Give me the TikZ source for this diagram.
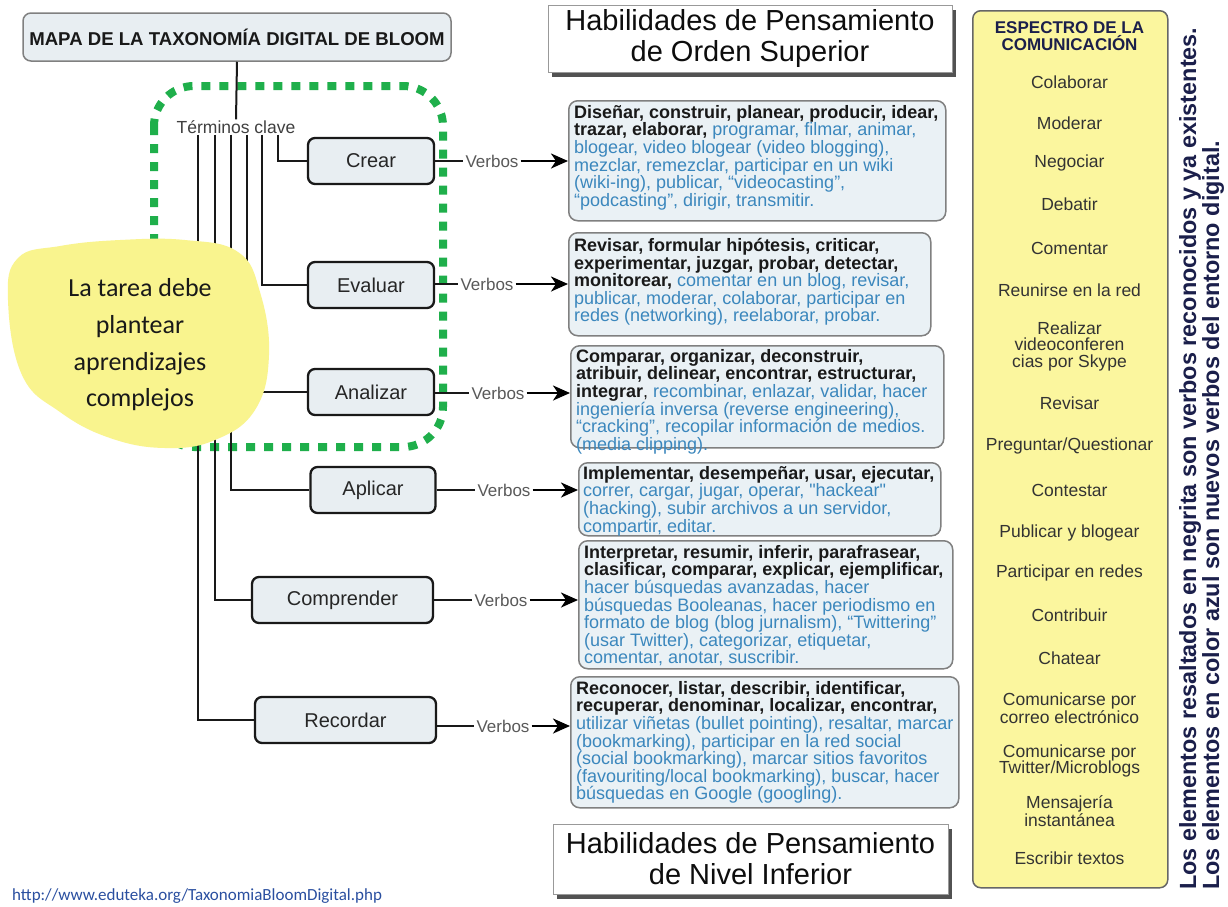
\documentclass[tikz,border=0pt]{standalone}
\usepackage{fontspec}
\setmainfont{Liberation Sans}
\newfontfamily\carlito{Carlito}
\usetikzlibrary{arrows.meta,shadows}
\definecolor{lvlfill}{HTML}{E8EEF2}
\definecolor{boxfill}{HTML}{EAF1F5}
\definecolor{vblue}{HTML}{3B87BD}
\definecolor{yfill}{HTML}{FBF69E}
\definecolor{blobfill}{HTML}{F9F48E}
\definecolor{greendot}{HTML}{1FAF4B}
\definecolor{navy}{HTML}{1B1F4B}
\definecolor{urlblue}{HTML}{2A4FA0}
\newcommand{\azul}[1]{\textcolor{vblue}{#1}}
\tikzset{
 lvl/.style={draw=black!90, line width=2.3pt, rounded corners=7pt, fill=lvlfill, text=black!85, font=\fontsize{20}{24}\selectfont, inner sep=0pt, minimum height=46pt},
 vbox/.style={draw=black!50, line width=1.5pt, rounded corners=9pt, fill=boxfill, inner sep=0pt, anchor=north west},
 vtext/.style={anchor=north west, inner sep=0pt, align=left, font=\fontsize{18}{17.6}\selectfont, text=black!90},
 verb/.style={font=\fontsize{17}{20}\selectfont, text=black!65, inner sep=2pt},
 conn/.style={line width=2pt, draw=black!90},
 arr/.style={line width=2.5pt, -{Stealth[length=17pt,width=15pt,inset=5pt]}},
 hdr/.style={draw=black!40, line width=1pt, fill=white, drop shadow={shadow xshift=4pt, shadow yshift=-5pt, fill=black!75, opacity=0.9}, align=center, font=\fontsize{29}{31}\selectfont, text=black!95, inner sep=0pt},
 item/.style={font=\fontsize{17.5}{16.5}\selectfont, text=black!80, align=center, inner sep=0pt},
}
\begin{document}
\begin{tikzpicture}[x=1pt,y=-1pt]
\useasboundingbox (0,0) rectangle (1228,906);
\fill[white] (0,0) rectangle (1228,906);

% green dotted frame
\draw[greendot, line width=8pt, dash pattern=on 9pt off 9pt, rounded corners=40pt] (154,86) rectangle (443,447);

% title
\node[draw=black!50, line width=1.5pt, rounded corners=8pt, fill=lvlfill, minimum width=428pt, minimum height=48pt, font=\bfseries\fontsize{18.6}{20}\selectfont, text=black!90] (title) at (237,37) {MAPA DE LA TAXONOMÍA DIGITAL DE BLOOM};
\node[font=\fontsize{17.5}{20}\selectfont, text=black!75, inner sep=1pt] (tc) at (236,127) {Términos clave};

% level boxes
\node[lvl, minimum width=126pt] (crear) at (371,161) {Crear};
\node[lvl, minimum width=126pt] (evaluar) at (371,285) {Evaluar};
\node[lvl, minimum width=126pt] (analizar) at (371,392) {Analizar};
\node[lvl, minimum width=125pt] (aplicar) at (373,490) {Aplicar};
\node[lvl, minimum width=181pt] (comprender) at (342.5,600) {Comprender};
\node[lvl, minimum width=181pt] (recordar) at (345.5,720) {Recordar};

% verbos labels
\node[verb] (v1) at (492,161) {Verbos};
\node[verb] (v2) at (487,284) {Verbos};
\node[verb] (v3) at (498,393) {Verbos};
\node[verb] (v4) at (504,490) {Verbos};
\node[verb] (v5) at (501,600) {Verbos};
\node[verb] (v6) at (503,726) {Verbos};

% verb boxes
\node[vbox, minimum width=377pt, minimum height=120pt] (b1) at (568,100) {};
\node[vbox, minimum width=362pt, minimum height=103pt] (b2) at (568,232) {};
\node[vbox, minimum width=373pt, minimum height=102pt] (b3) at (570,345) {};
\node[vbox, minimum width=362pt, minimum height=73pt] (b4) at (578,462) {};
\node[vbox, minimum width=374pt, minimum height=128pt] (b5) at (578,540) {};
\node[vbox, minimum width=388pt, minimum height=131pt] (b6) at (570,676) {};

\node[vtext] (t1) at ([xshift=6pt,yshift=-5pt]b1.north west) {\textbf{Diseñar, construir, planear, producir, idear,}\\
\textbf{trazar, elaborar,} \azul{programar, filmar, animar,}\\
\azul{blogear, video blogear (video blogging),}\\
\azul{mezclar, remezclar, participar en un wiki}\\
\azul{(wiki-ing), publicar, “videocasting”,}\\
\azul{“podcasting”, dirigir, transmitir.}};
\node[vtext] (t2) at ([xshift=6pt,yshift=-6pt]b2.north west) {\textbf{Revisar, formular hipótesis, criticar,}\\
\textbf{experimentar, juzgar, probar, detectar,}\\
\textbf{monitorear,} \azul{comentar en un blog, revisar,}\\
\azul{publicar, moderar, colaborar, participar en}\\
\azul{redes (networking), reelaborar, probar.}};
\node[vtext] (t3) at ([xshift=6pt,yshift=-4pt]b3.north west) {\textbf{Comparar, organizar, deconstruir,}\\
\textbf{atribuir, delinear, encontrar, estructurar,}\\
\textbf{integrar}, \azul{recombinar, enlazar, validar, hacer}\\
\azul{ingeniería inversa (reverse engineering),}\\
\azul{“cracking”, recopilar información de medios.}\\
\azul{(media clipping).}};
\node[vtext] (t4) at ([xshift=5pt,yshift=-4pt]b4.north west) {\textbf{Implementar, desempeñar, usar, ejecutar,}\\
\azul{correr, cargar, jugar, operar, \textquotedbl hackear\textquotedbl}\\
\azul{(hacking), subir archivos a un servidor,}\\
\azul{compartir, editar.}};
\node[vtext] (t5) at ([xshift=6pt,yshift=-5pt]b5.north west) {\textbf{Interpretar, resumir, inferir, parafrasear,}\\
\textbf{clasificar, comparar, explicar, ejemplificar,}\\
\azul{hacer búsquedas avanzadas, hacer}\\
\azul{búsquedas Booleanas, hacer periodismo en}\\
\azul{formato de blog (blog jurnalism), “Twittering”}\\
\azul{(usar Twitter), categorizar, etiquetar,}\\
\azul{comentar, anotar, suscribir.}};
\node[vtext] (t6) at ([xshift=6pt,yshift=-5pt]b6.north west) {\textbf{Reconocer, listar, describir, identificar,}\\
\textbf{recuperar, denominar, localizar, encontrar,}\\
\azul{utilizar viñetas (bullet pointing), resaltar, marcar}\\
\azul{(bookmarking), participar en la red social}\\
\azul{(social bookmarking), marcar sitios favoritos}\\
\azul{(favouriting/local bookmarking), buscar, hacer}\\
\azul{búsquedas en Google (googling).}};

% tree connectors
\draw[conn] (title.south) -- (tc.north);
\draw[conn] ([xshift=42pt]tc.south) |- (crear.west);
\draw[conn] ([xshift=26pt]tc.south) |- (evaluar.west);
\draw[conn] ([xshift=11pt]tc.south) |- (analizar.west);
\draw[conn] ([xshift=-5pt]tc.south) |- (aplicar.west);
\draw[conn] ([xshift=-21pt]tc.south) |- (comprender.west);
\draw[conn] ([xshift=-38pt]tc.south) |- (recordar.west);

% box -> Verbos -> verb box
\foreach \l/\v/\b in {crear/v1/b1, evaluar/v2/b2, analizar/v3/b3, aplicar/v4/b4, comprender/v5/b5, recordar/v6/b6}{
  \draw[conn] (\l.east |- \v.west) -- (\v.west);
  \draw[arr] (\v.east) -- (\b.west |- \v.east);
}

% headers
\node[hdr, minimum width=404pt, minimum height=67pt] (hs) at (750,38.5) {Habilidades de Pensamiento\\de Orden Superior};
\node[hdr, minimum width=395pt, minimum height=70pt] (hi) at (750.5,859) {Habilidades de Pensamiento\\de Nivel Inferior};

% communication spectrum
\node[draw=black!60, line width=1.5pt, rounded corners=8pt, fill=yfill, minimum width=195pt, minimum height=877pt, anchor=north west, inner sep=0pt] (spec) at (972,10) {};
\node[item, font=\bfseries\fontsize{17}{17}\selectfont, text=navy] (sh) at (1069.5,36.5) {ESPECTRO DE LA\\COMUNICACIÓN};
\foreach \yy/\txt [count=\i] in {82/{Colaborar}, 123/{Moderar}, 163/{Negociar}, 204/{Debatir}, 248/{Comentar}, 290/{Reunirse en la red}, 346/{Realizar\\videoconferen\\cias por Skype}, 403/{Revisar}, 446/{Preguntar/Questionar}, 490/{Contestar}, 533/{Publicar y blogear}, 573/{Participar en redes}, 615/{Contribuir}, 658/{Chatear}, 708/{Comunicarse por\\correo electrónico}, 761/{Comunicarse por\\Twitter/Microblogs}, 811/{Mensajería\\instantánea}, 858/{Escribir textos}}{
  \node[item] (s\i) at (1069.5,\yy) {\txt};
}

% rotated note
\node[rotate=90, anchor=north west, align=left, inner sep=0pt, font=\bfseries\fontsize{23.4}{20.5}\selectfont, text=navy] (note) at (1179,890) {Los elementos resaltados en negrita son verbos reconocidos y ya existentes.\\Los elementos en color azul son nuevos verbos del entorno digital.};

% yellow blob
\fill[blobfill] plot[smooth cycle, tension=0.7] coordinates {(8,300) (18,258) (60,246) (120,240) (185,240) (238,252) (260,292) (269,355) (255,410) (215,440) (165,448) (110,438) (60,412) (22,375)};
\node[font=\carlito\fontsize{26}{36.6}\selectfont, align=center, text=black!90] (blob) at (140,345) {La tarea debe\\plantear\\aprendizajes\\complejos};

% source url
\node[font=\carlito\fontsize{17}{20}\selectfont, text=urlblue, anchor=west, inner sep=0pt] (url) at (12,896) {http://www.eduteka.org/TaxonomiaBloomDigital.php};
\end{tikzpicture}
\end{document}
